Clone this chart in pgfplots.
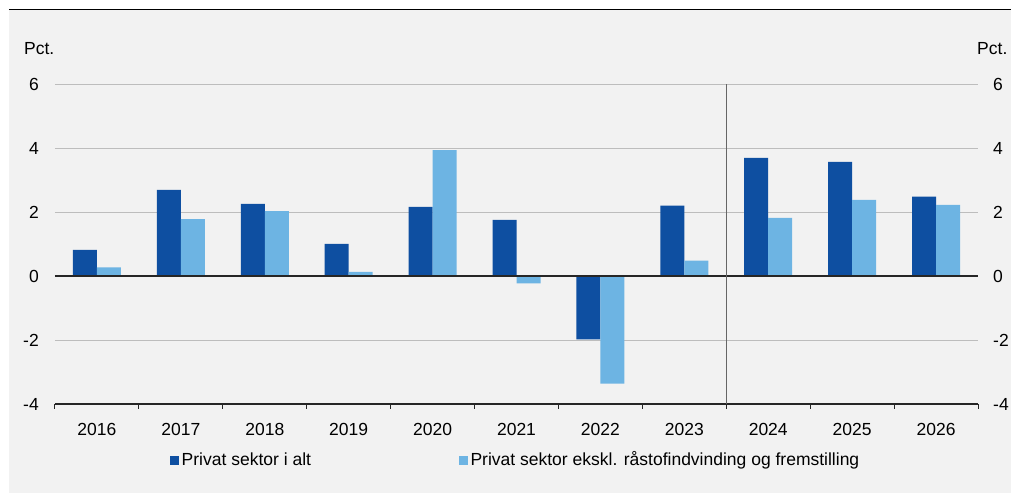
\documentclass[border=0pt]{standalone}
\usepackage{pgfplots}
\pgfplotsset{compat=1.18}
\usepackage{fontspec}
\setmainfont{Liberation Sans}
\definecolor{dkblue}{HTML}{0E4FA1}
\definecolor{ltblue}{HTML}{6DB4E3}
\definecolor{bggray}{HTML}{F2F2F2}
\definecolor{gridgray}{HTML}{BDBDBD}
\begin{document}
\fontsize{17.5}{21}\selectfont
\begin{tikzpicture}
\path[use as bounding box] (-55pt,-89pt) rectangle (956pt,404pt);
\fill[bggray] (-46pt,-89pt) rectangle (956pt,394pt);
\draw[black,line width=1.5pt] (-46pt,394.5pt) -- (956pt,394.5pt);
\node[anchor=west,inner sep=0pt] at (-31pt,355pt) {Pct.};
\node[anchor=west,inner sep=0pt] at (922pt,355pt) {Pct.};
\begin{axis}[
  at={(0pt,0pt)}, anchor=south west,
  scale only axis, width=923pt, height=320pt,
  xmin=-0.5, xmax=10.5, ymin=-4, ymax=6,
  ybar=0pt, bar width=24pt,
  axis x line*=bottom, axis y line*=left,
  x axis line style={-, black!85, line width=1.3pt},
  y axis line style={draw=none},
  xtick={0,1,...,10},
  xticklabels={2016,2017,2018,2019,2020,2021,2022,2023,2024,2025,2026},
  major x tick style={draw=none},
  minor xtick={-0.5,0.5,...,10.5},
  minor tick length=4.5pt, xtick align=outside,
  minor x tick style={black!85, line width=1pt},
  xticklabel style={anchor=base, inner sep=0pt, yshift=-27.7pt},
  ytick={-4,-2,0,2,4,6},
  yticklabels={-4,-2,0,2,4,6},
  ytick style={draw=none},
  yticklabel style={anchor=east, inner sep=0pt, xshift=-16pt},
  ymajorgrids, major y grid style={gridgray, line width=0.8pt},
  legend columns=2,
  legend style={at={(0.1246,-0.175)}, anchor=west, draw=none, fill=none,
    inner sep=0pt, nodes={inner xsep=2.5pt, inner ysep=0pt},
    /tikz/every even column/.append style={column sep=145.5pt}},
  legend image code/.code={\fill[#1] (0pt,-4.5pt) rectangle (9pt,4.5pt);},
]
\addplot[fill=dkblue, draw=none] coordinates {
 (0,0.82) (1,2.69) (2,2.25) (3,1.00) (4,2.16) (5,1.75) (6,-1.98) (7,2.20) (8,3.69) (9,3.57) (10,2.48)};
\addlegendentry{Privat sektor i alt}
\addplot[fill=ltblue, draw=none] coordinates {
 (0,0.27) (1,1.78) (2,2.03) (3,0.13) (4,3.93) (5,-0.23) (6,-3.36) (7,0.48) (8,1.82) (9,2.38) (10,2.22)};
\addlegendentry{Privat sektor ekskl. råstofindvinding og fremstilling}
\draw[black!85, line width=1.3pt] (axis cs:-0.5,0) -- (axis cs:10.5,0);
\draw[black!60, line width=1pt] (axis cs:7.5,-4) -- (axis cs:7.5,6);
\end{axis}
\begin{axis}[
  at={(0pt,0pt)}, anchor=south west,
  scale only axis, width=923pt, height=320pt,
  xmin=-0.5, xmax=10.5, ymin=-4, ymax=6,
  hide x axis, axis y line*=right,
  y axis line style={draw=none},
  ytick={-4,-2,0,2,4,6},
  yticklabels={-4,-2,0,2,4,6},
  ytick style={draw=none},
  yticklabel style={anchor=west, inner sep=0pt, xshift=15pt},
]
\end{axis}
\end{tikzpicture}
\end{document}
